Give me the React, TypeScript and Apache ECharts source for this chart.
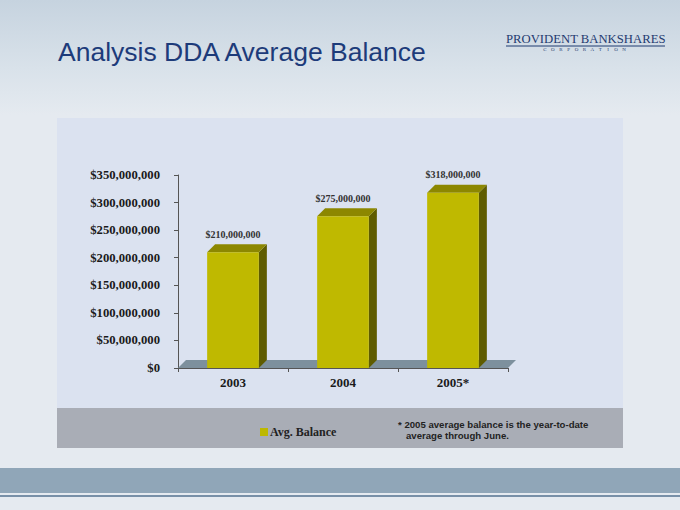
import React, { useEffect, useRef } from "react";
import * as echarts from "echarts";

const categories = ["2003", "2004", "2005*"];
const avgBalance = [210000000, 275000000, 318000000];
const seriesName = "Avg. Balance";
const yTicks = { min: 0, max: 350000000, interval: 50000000 };

const fmt = (v: number) => "$" + Math.round(v).toLocaleString("en-US");

export default function App() {
  const ref = useRef<HTMLDivElement>(null);
  useEffect(() => {
    if (!ref.current) return;
    const chart = echarts.init(ref.current, undefined, { renderer: "svg" });
    const D = 8;
    const corp = "CORPORATION".split("").map((ch, i) => ({
      type: "text",
      x: 545 + i * 7.9,
      y: 49,
      style: {
        text: ch,
        font: '5px "Liberation Serif", serif',
        fill: "#2a4070",
        align: "center",
        verticalAlign: "middle",
      },
    }));
    const option: any = {
      animation: false,
      backgroundColor: "#e5eaf0",
      graphic: [
        {
          type: "rect",
          z: -10,
          shape: { x: 0, y: 0, width: 680, height: 115 },
          style: {
            fill: new echarts.graphic.LinearGradient(0, 0, 0, 1, [
              { offset: 0, color: "#c6d3df" },
              { offset: 0.6, color: "#d9e2ea" },
              { offset: 1, color: "#e5eaf0" },
            ]),
          },
        },
        {
          type: "rect",
          z: -9,
          shape: { x: 57, y: 118, width: 566, height: 290 },
          style: { fill: "#dbe2f0" },
        },
        {
          type: "rect",
          z: -9,
          shape: { x: 57, y: 408, width: 566, height: 40 },
          style: { fill: "#a9adb6" },
        },
        {
          type: "rect",
          z: -9,
          shape: { x: 0, y: 468, width: 680, height: 25 },
          style: { fill: "#90a6b8" },
        },
        {
          type: "rect",
          z: -9,
          shape: { x: 0, y: 495, width: 680, height: 2 },
          style: { fill: "#7890a8" },
        },
        {
          type: "text",
          left: 58,
          top: 38,
          style: {
            text: "Analysis DDA Average Balance",
            font: '26.5px "Liberation Sans", Arial, sans-serif',
            fill: "#1d3b7a",
          },
        },
        {
          type: "text",
          left: 506,
          top: 32,
          style: {
            text: "PROVIDENT BANKSHARES",
            font: '12.7px "Liberation Serif", "Times New Roman", serif',
            fill: "#1f3a70",
          },
        },
        {
          type: "line",
          shape: { x1: 506, y1: 46, x2: 665, y2: 46 },
          style: { stroke: "#1f3a70", lineWidth: 1 },
        },
        ...corp,
        {
          type: "text",
          left: 398,
          top: 419,
          style: {
            text: "* 2005 average balance is the year-to-date\n   average through June.",
            font: 'bold 9.6px "Liberation Sans", Arial, sans-serif',
            fill: "#222",
            lineHeight: 11,
          },
        },
      ],
      legend: {
        data: [seriesName],
        left: 255,
        top: 421,
        icon: "rect",
        itemWidth: 8,
        itemHeight: 8,
        itemGap: 2,
        textStyle: {
          fontFamily: '"Liberation Serif", serif',
          fontWeight: "bold",
          fontSize: 12,
          color: "#222",
          padding: [0, 0, 0, -3],
        },
      },
      grid: { left: 178, right: 172, top: 175, bottom: 142 },
      xAxis: {
        type: "category",
        data: categories,
        axisLine: { lineStyle: { color: "#555", width: 1 } },
        axisTick: { show: true, length: 4, lineStyle: { color: "#555" } },
        axisLabel: {
          margin: 8,
          fontFamily: '"Liberation Serif", serif',
          fontWeight: "bold",
          fontSize: 13,
          color: "#1a1a1a",
        },
      },
      yAxis: {
        type: "value",
        min: yTicks.min,
        max: yTicks.max,
        interval: yTicks.interval,
        splitLine: { show: false },
        axisLine: { show: true, lineStyle: { color: "#555", width: 1 } },
        axisTick: { show: true, length: 4, lineStyle: { color: "#555" } },
        axisLabel: {
          margin: 18,
          formatter: (v: number) => fmt(v),
          fontFamily: '"Liberation Serif", serif',
          fontWeight: "bold",
          fontSize: 12.7,
          color: "#1a1a1a",
        },
      },
      series: [
        {
          type: "custom",
          name: seriesName,
          itemStyle: { color: "#bdb800" },
          data: categories.map((c, i) => [i, avgBalance[i]]),
          renderItem: (params: any, api: any) => {
            const idx = api.value(0);
            const val = api.value(1);
            const top = api.coord([idx, val]);
            const base = api.coord([idx, 0]);
            const bw = api.size([1, 0])[0] * 0.47;
            const x0 = top[0] - bw / 2;
            const x1 = top[0] + bw / 2;
            const ty = top[1];
            const by = base[1];
            const children: any[] = [];
            if (params.dataIndex === 0) {
              const cs = params.coordSys;
              const fy = cs.y + cs.height;
              children.push({
                type: "polygon",
                shape: {
                  points: [
                    [cs.x, fy],
                    [cs.x + cs.width, fy],
                    [cs.x + cs.width + D, fy - D],
                    [cs.x + D, fy - D],
                  ],
                },
                style: { fill: "#7d909d" },
              });
            }
            children.push(
              {
                type: "polygon",
                shape: { points: [[x1, ty], [x1 + D, ty - D], [x1 + D, by - D], [x1, by]] },
                style: { fill: "#5f5c00" },
              },
              {
                type: "polygon",
                shape: { points: [[x0, ty], [x1, ty], [x1 + D, ty - D], [x0 + D, ty - D]] },
                style: { fill: "#8c8700" },
              },
              {
                type: "rect",
                shape: { x: x0, y: ty, width: bw, height: by - ty },
                style: { fill: "#bfb900" },
              },
              {
                type: "text",
                style: {
                  text: fmt(val),
                  x: top[0],
                  y: ty - D - 5,
                  align: "center",
                  verticalAlign: "bottom",
                  font: 'bold 10px "Liberation Serif", serif',
                  fill: "#333",
                },
              }
            );
            return { type: "group", children };
          },
        },
      ],
    };
    chart.setOption(option);
    return () => chart.dispose();
  }, []);
  return (
    <div
      ref={ref}
      style={{ position: "absolute", left: 0, top: 0, width: 680, height: 510 }}
    />
  );
}
